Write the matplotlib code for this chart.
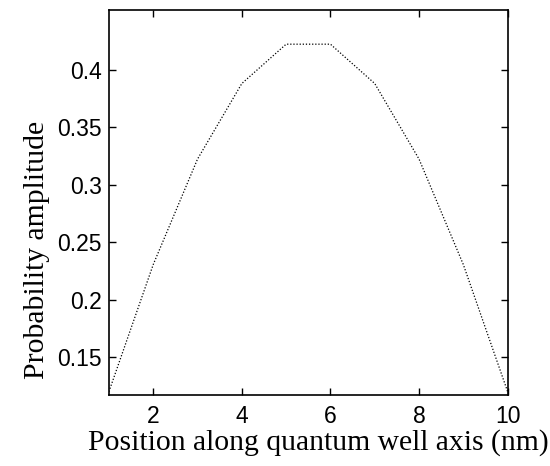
import matplotlib
matplotlib.use("Agg")
import matplotlib.pyplot as plt

# position along well (nm) and probability amplitude
position = [1, 2, 3, 4, 5, 6, 7, 8, 9, 10]
amplitude = [0.120, 0.2305, 0.3222, 0.3879, 0.4221, 0.4221, 0.3879, 0.3222, 0.2305, 0.120]

fig = plt.figure(figsize=(5.5, 4.66), dpi=100)
ax = fig.add_axes([0.198, 0.152, 0.725, 0.827])

ax.plot(position, amplitude, color="black", linestyle=(0, (1, 1.5)), linewidth=0.9)

ax.set_xlim(1, 10)
ax.set_ylim(0.117, 0.452)
ax.set_xticks([2, 4, 6, 8, 10])
ax.set_yticks([0.15, 0.2, 0.25, 0.3, 0.35, 0.4])
ax.set_yticklabels(["0.15", "0.2", "0.25", "0.3", "0.35", "0.4"])
ax.tick_params(direction="in", top=True, right=True, length=5, width=1,
               labelsize=16.5)
ax.tick_params(axis="x", pad=7)
ax.tick_params(axis="y", pad=5)
for lbl in ax.get_xticklabels() + ax.get_yticklabels():
    lbl.set_family("Liberation Sans")
for s in ax.spines.values():
    s.set_linewidth(1.2)

ax.set_xlabel("Position along quantum well axis (nm)", family="Liberation Serif",
              fontsize=21.3, labelpad=1)
ax.set_ylabel("Probability amplitude", family="Liberation Serif",
              fontsize=21.3, labelpad=5)
ax.xaxis.label.set_x(0.526)
ax.yaxis.label.set_y(0.377)

fig.savefig("out.png", dpi=100)
